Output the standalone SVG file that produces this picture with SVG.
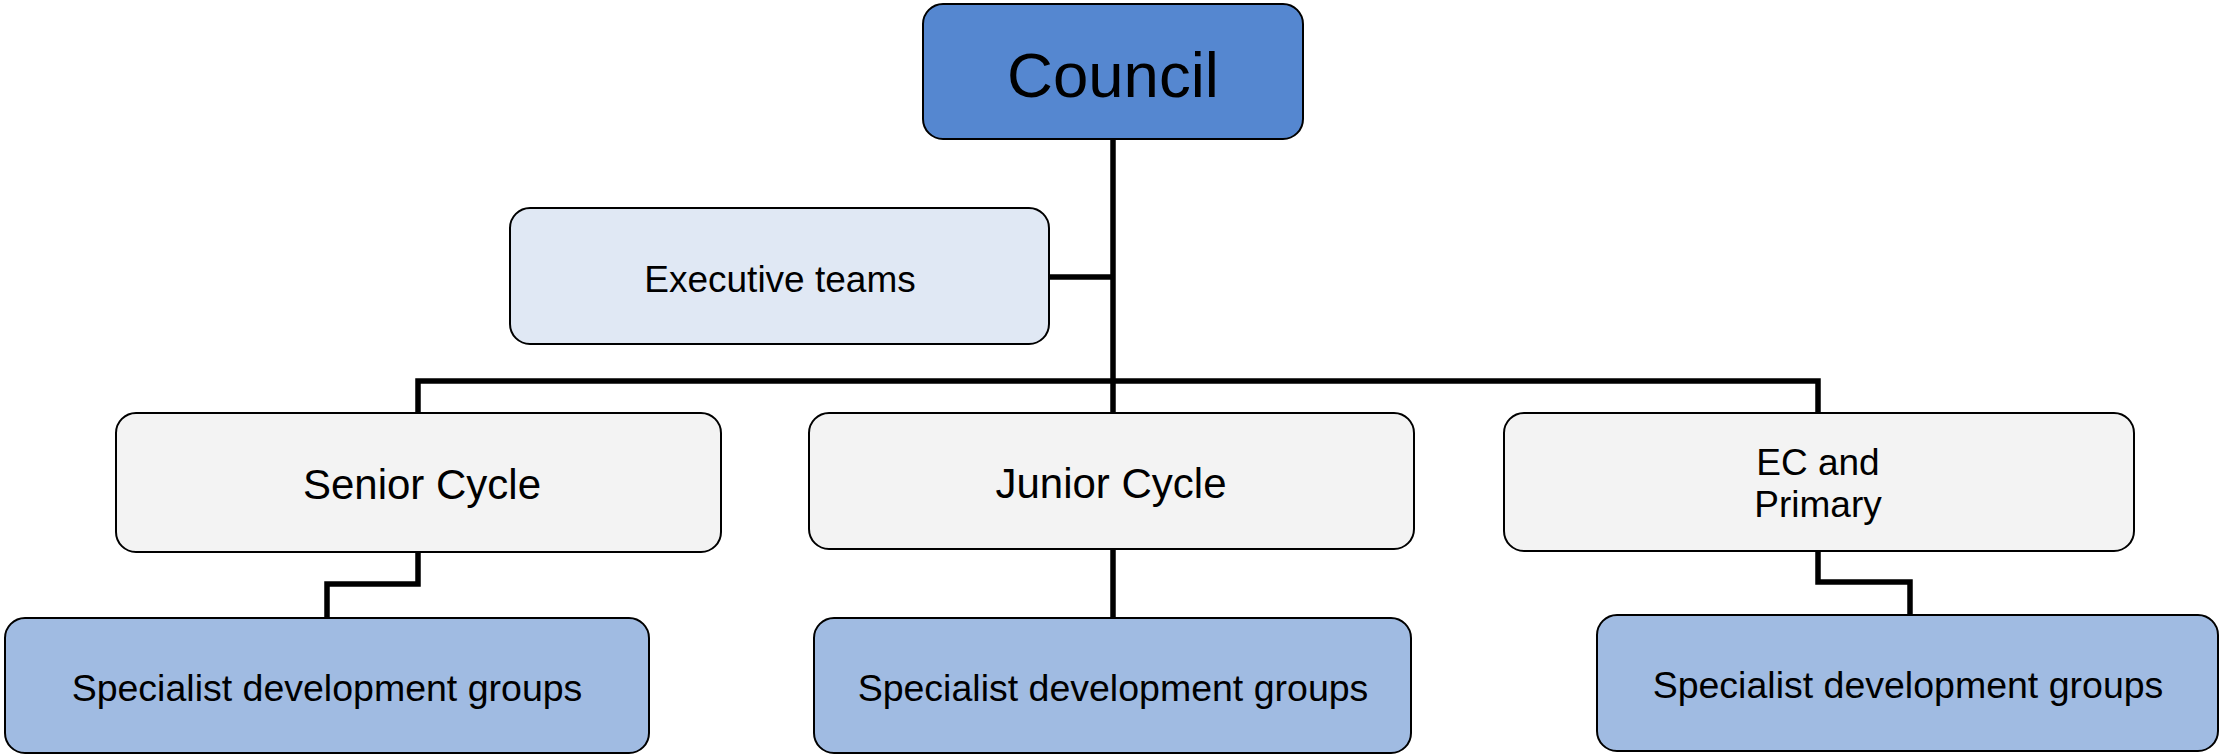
<svg xmlns="http://www.w3.org/2000/svg" width="2220" height="754" viewBox="0 0 2220 754">
  <style>
    .box { stroke: #000; stroke-width: 2; }
    .top { fill: #5587d0; }
    .exec { fill: #e0e8f4; }
    .cycle { fill: #f3f3f3; }
    .group { fill: #a0bbe2; }
    .label { font-family: "Liberation Sans", Arial, sans-serif; fill: #000; text-anchor: middle; }
    .wire { fill: none; stroke: #000; stroke-width: 5.5; stroke-linejoin: miter; }
  </style>
  <rect width="2220" height="754" fill="#fff"/>

  <!-- connectors -->
  <g id="connectors">
    <path class="wire" d="M1113 139 V381"/>
    <path class="wire" d="M1049 277 H1113"/>
    <path class="wire" d="M418 413 V381 H1818 V413"/>
    <path class="wire" d="M1113 381 V413"/>
    <path class="wire" d="M418 552 V584 H327 V618"/>
    <path class="wire" d="M1113 549 V618"/>
    <path class="wire" d="M1818 551 V582 H1910 V615"/>
  </g>

  <g id="council">
    <rect class="box top" x="923" y="4" width="380" height="135" rx="20"/>
    <text class="label" x="1113" y="97" font-size="63.5">Council</text>
  </g>

  <g id="executive-teams">
    <rect class="box exec" x="510" y="208" width="539" height="136" rx="20"/>
    <text class="label" x="780" y="292" font-size="37">Executive teams</text>
  </g>

  <g id="senior-cycle">
    <rect class="box cycle" x="116" y="413" width="605" height="139" rx="20"/>
    <text class="label" x="422" y="499" font-size="42">Senior Cycle</text>
  </g>

  <g id="junior-cycle">
    <rect class="box cycle" x="809" y="413" width="605" height="136" rx="20"/>
    <text class="label" x="1111" y="498" font-size="42">Junior Cycle</text>
  </g>

  <g id="ec-primary">
    <rect class="box cycle" x="1504" y="413" width="630" height="138" rx="20"/>
    <text class="label" x="1818" y="475" font-size="37">EC and</text>
    <text class="label" x="1818" y="517" font-size="37">Primary</text>
  </g>

  <g id="senior-groups">
    <rect class="box group" x="5" y="618" width="644" height="135" rx="20"/>
    <text class="label" x="327" y="701" font-size="37.5">Specialist development groups</text>
  </g>

  <g id="junior-groups">
    <rect class="box group" x="814" y="618" width="597" height="135" rx="20"/>
    <text class="label" x="1113" y="701" font-size="37.5">Specialist development groups</text>
  </g>

  <g id="ec-primary-groups">
    <rect class="box group" x="1597" y="615" width="621" height="136" rx="20"/>
    <text class="label" x="1908" y="698" font-size="37.5">Specialist development groups</text>
  </g>
</svg>
